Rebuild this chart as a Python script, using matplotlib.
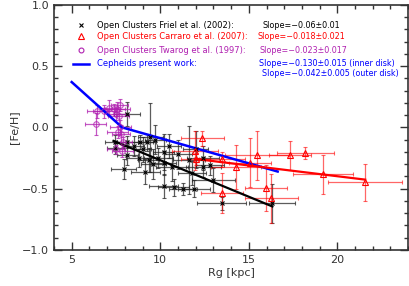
import matplotlib
matplotlib.use("Agg")
import matplotlib.pyplot as plt
from matplotlib.ticker import MultipleLocator

# Open clusters, Friel et al. (2002)
friel_rg = [8.13, 9.44, 9.72, 7.47, 8.13, 8.88, 9.25, 7.47, 8.13, 8.78, 9.34, 9.9,
            10.19, 10.66, 11.6, 11.79, 12.43, 12.43, 13.0, 7.94, 9.16, 10.19, 10.75,
            11.3, 11.93, 13.47, 16.33, 10.2, 10.5, 9.0, 11.0, 12.0, 12.8, 8.5, 9.6]
friel_feh = [0.11, -0.08, -0.10, -0.12, -0.12, -0.12, -0.12, -0.17, -0.225, -0.25,
             -0.265, -0.25, -0.29, -0.32, -0.265, -0.37, -0.25, -0.325, -0.43, -0.337,
             -0.36, -0.48, -0.49, -0.5, -0.5, -0.62, -0.62, -0.2, -0.15, -0.18, -0.22,
             -0.18, -0.31, -0.15, -0.3]
friel_xerr = [0.75, 0.7, 0.6, 0.6, 0.6, 0.7, 0.5, 0.5, 0.6, 0.7, 0.6, 0.8, 0.7, 0.9,
              0.9, 0.8, 0.9, 1.0, 1.2, 0.7, 0.8, 0.8, 0.9, 0.8, 0.9, 1.4, 1.3, 0.6,
              0.7, 0.5, 0.8, 0.7, 0.8, 0.6, 0.7]
friel_yerr = [0.1, 0.28, 0.12, 0.06, 0.05, 0.06, 0.07, 0.05, 0.08, 0.07, 0.1, 0.08,
              0.1, 0.12, 0.28, 0.1, 0.1, 0.08, 0.1, 0.08, 0.1, 0.1, 0.07, 0.05, 0.07,
              0.05, 0.16, 0.15, 0.1, 0.1, 0.12, 0.15, 0.08, 0.08, 0.12]

# Open clusters, Carraro et al. (2007)
carraro_rg = [12.38, 11.97, 12.0, 13.5, 14.27, 15.06, 15.47, 15.96, 16.26, 17.34,
              18.2, 19.2, 21.55, 13.5]
carraro_feh = [-0.088, -0.19, -0.257, -0.26, -0.32, -0.29, -0.228, -0.495, -0.58,
               -0.228, -0.209, -0.383, -0.447, -0.535]
carraro_xerr = [1.2, 1.3, 0.8, 1.3, 1.4, 1.2, 1.8, 1.2, 1.5, 1.2, 1.6, 1.7, 2.1, 1.2]
carraro_yerr = [0.06, 0.16, 0.05, 0.06, 0.18, 0.2, 0.2, 0.19, 0.2, 0.12, 0.05, 0.16,
                0.15, 0.16]

# Open clusters, Twarog et al. (1997)
twarog_rg = [6.35, 6.45, 6.82, 7.1, 7.4, 7.57, 7.7, 7.66, 7.5, 7.75, 7.8, 7.6, 7.9,
             7.85, 7.5]
twarog_feh = [0.03, 0.13, 0.13, 0.16, 0.15, 0.15, 0.18, 0.09, 0.11, 0.0, -0.05, -0.04,
              -0.12, -0.19, -0.18]
twarog_xerr = [0.6, 0.6, 0.6, 0.5, 0.6, 0.7, 0.5, 0.6, 0.5, 0.6, 0.5, 0.6, 0.5, 0.6, 0.5]
twarog_yerr = [0.09, 0.05, 0.05, 0.06, 0.04, 0.06, 0.05, 0.06, 0.05, 0.06, 0.07,
               0.05, 0.04, 0.05, 0.04]

# gradient fits
ceph_rg = [5.0, 7.85, 16.63]
ceph_feh = [0.37, 0.0, -0.36]
friel_fit_rg = [7.36, 16.33]
friel_fit_feh = [-0.11, -0.645]
carraro_fit_rg = [11.97, 21.57]
carraro_fit_feh = [-0.257, -0.426]

PURPLE = "#b020b0"

fig = plt.figure(figsize=(4.09, 2.86), dpi=100)
ax = fig.add_axes([0.132, 0.126, 0.866, 0.857])

ax.errorbar(friel_rg, friel_feh, xerr=friel_xerr, yerr=friel_yerr, fmt="x", color="black",
            ms=3.5, mew=0.8, ecolor=(0.15, 0.15, 0.15, 0.75), elinewidth=0.9, capsize=1.5)
ax.errorbar(carraro_rg, carraro_feh, xerr=carraro_xerr, yerr=carraro_yerr, fmt="^",
            mfc="none", mec="red", ms=4, mew=0.8, ecolor=(1, 0, 0, 0.6),
            elinewidth=0.9, capsize=1.5)
ax.errorbar(twarog_rg, twarog_feh, xerr=twarog_xerr, yerr=twarog_yerr, fmt="o",
            mfc="none", mec=PURPLE, ms=4, mew=0.8, ecolor=PURPLE, alpha=0.75,
            elinewidth=0.9, capsize=1.5)

ax.plot(ceph_rg, ceph_feh, color="blue", lw=1.8)
ax.plot(friel_fit_rg, friel_fit_feh, color="black", lw=1.6)
ax.plot(carraro_fit_rg, carraro_fit_feh, color="red", lw=1.6)

# legend written as text, IDL style
ax.plot([5.5], [0.835], "x", color="black", ms=3.5, mew=0.8)
ax.plot([5.5], [0.745], "^", mfc="none", mec="red", ms=4, mew=0.8)
ax.plot([5.5], [0.63], "o", mfc="none", mec=PURPLE, ms=3.5, mew=0.8)
ax.plot([5.05, 5.95], [0.52, 0.52], color="blue", lw=1.8)
rows = [
    (0.83, "Open Clusters Friel et al. (2002):", "Slope=\u22120.06\u00b10.01", "black", 15.75),
    (0.74, "Open Clusters Carraro et al. (2007):", "Slope=\u22120.018\u00b10.021", "red", 15.47),
    (0.625, "Open Clusters Twarog et al. (1997):", "Slope=\u22120.023\u00b10.017", PURPLE, 15.58),
    (0.525, "Cepheids present work:", "Slope=\u22120.130\u00b10.015 (inner disk)", "blue", 15.58),
    (0.44, None, "Slope=\u22120.042\u00b10.005 (outer disk)", "blue", 15.75),
]
for y, left, right, c, xr in rows:
    if left:
        ax.text(6.45, y, left, color=c, fontsize=6, va="center")
    ax.text(xr, y, right, color=c, fontsize=5.8, va="center")

ax.set_xlim(4, 24)
ax.set_ylim(-1.0, 1.0)
ax.xaxis.set_major_locator(MultipleLocator(5))
ax.xaxis.set_minor_locator(MultipleLocator(1))
ax.yaxis.set_major_locator(MultipleLocator(0.5))
ax.yaxis.set_minor_locator(MultipleLocator(0.1))
ax.tick_params(which="both", direction="in", top=True, right=True, labelsize=8,
               colors="#333333", labelcolor="#333333")
ax.tick_params(which="major", length=6, width=1)
ax.tick_params(which="minor", length=3, width=1)
for s in ax.spines.values():
    s.set_linewidth(1.2)
    s.set_color("#333333")
ax.set_xlabel("Rg [kpc]", fontsize=8, color="#333333", labelpad=2)
ax.set_ylabel("[Fe/H]", fontsize=8, color="#333333", labelpad=2)

fig.savefig("out.png", dpi=100)
